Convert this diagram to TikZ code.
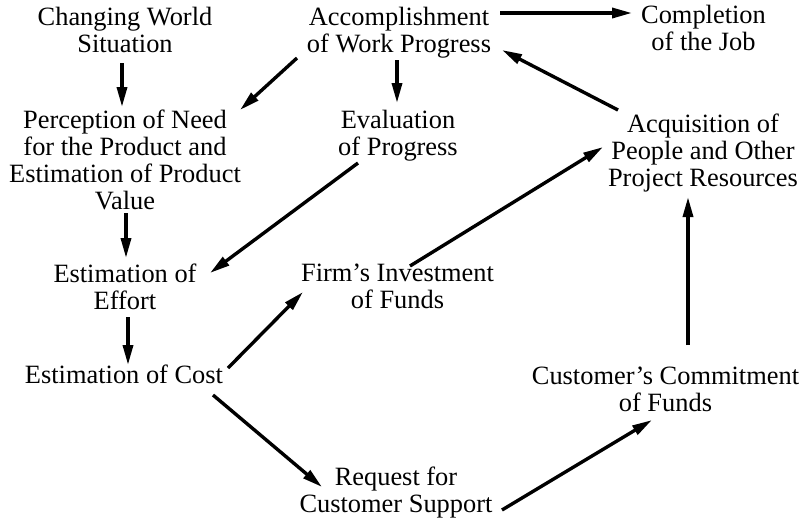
\documentclass[tikz,border=0pt]{standalone}
\usepackage{fontspec}
\setmainfont{Liberation Serif}
\usetikzlibrary{arrows.meta}
\begin{document}
\begin{tikzpicture}[x=0.5pt,y=-0.5pt,
  lbl/.style={anchor=north,inner sep=0pt,align=center,font=\fontsize{13.2}{13.5}\selectfont},
  arr/.style={line width=1.7pt,-{Triangle[length=10pt,width=5pt]}}]
\useasboundingbox (0,0) rectangle (809,521);
\node[lbl] (cws) at (125,7) {Changing World\\Situation};
\node[lbl] (acc) at (399,7) {Accomplishment\\of Work Progress};
\node[lbl] (cmp) at (703.5,5) {Completion\\of the Job};
\node[lbl] (pn) at (125,110) {Perception of Need\\for the Product and\\Estimation of Product\\Value};
\node[lbl] (ev) at (398,110) {Evaluation\\of Progress};
\node[lbl] (acq) at (703,114) {Acquisition of\\People and Other\\Project Resources};
\node[lbl] (ee) at (125,264) {Estimation of\\Effort};
\node[lbl] (fi) at (397.5,264) {Firm's Investment\\of Funds};
\node[lbl] (ec) at (124,365) {Estimation of Cost};
\node[lbl] (cc) at (665.5,367) {Customer's Commitment\\of Funds};
\node[lbl] (rq) at (396,467) {Request for\\Customer Support};
\draw[arr] ([shift={(-3,56)}]cws.north) -- ([shift={(-3,-3)}]pn.north);
\draw[arr] ([shift={(-102,51)}]acc.north) -- ([shift={(115,0)}]pn.north);
\draw[arr] ([shift={(-2,53)}]acc.north) -- ([shift={(-1,-7)}]ev.north);
\draw[arr] ([shift={(101,6)}]acc.north) -- ([shift={(-71.5,8)}]cmp.north);
\draw[arr] ([shift={(-85,-4)}]acq.north) -- ([shift={(103,43)}]acc.north);
\draw[arr] ([shift={(-40,53)}]ev.north) -- ([shift={(85,9)}]ee.north);
\draw[arr] ([shift={(1,103)}]pn.north) -- ([shift={(1,-6)}]ee.north);
\draw[arr] ([shift={(3,53)}]ee.north) -- ([shift={(4,0)}]ec.north);
\draw[arr] ([shift={(104,3)}]ec.north) -- ([shift={(-94.5,28)}]fi.north);
\draw[arr] ([shift={(12.5,2)}]fi.north) -- ([shift={(-100,33)}]acq.north);
\draw[arr] ([shift={(89,30)}]ec.north) -- ([shift={(-74,20)}]rq.north);
\draw[arr] ([shift={(106,43)}]rq.north) -- ([shift={(-13.5,53)}]cc.north);
\draw[arr] ([shift={(22.5,-22)}]cc.north) -- ([shift={(-15,83)}]acq.north);
\end{tikzpicture}
\end{document}
